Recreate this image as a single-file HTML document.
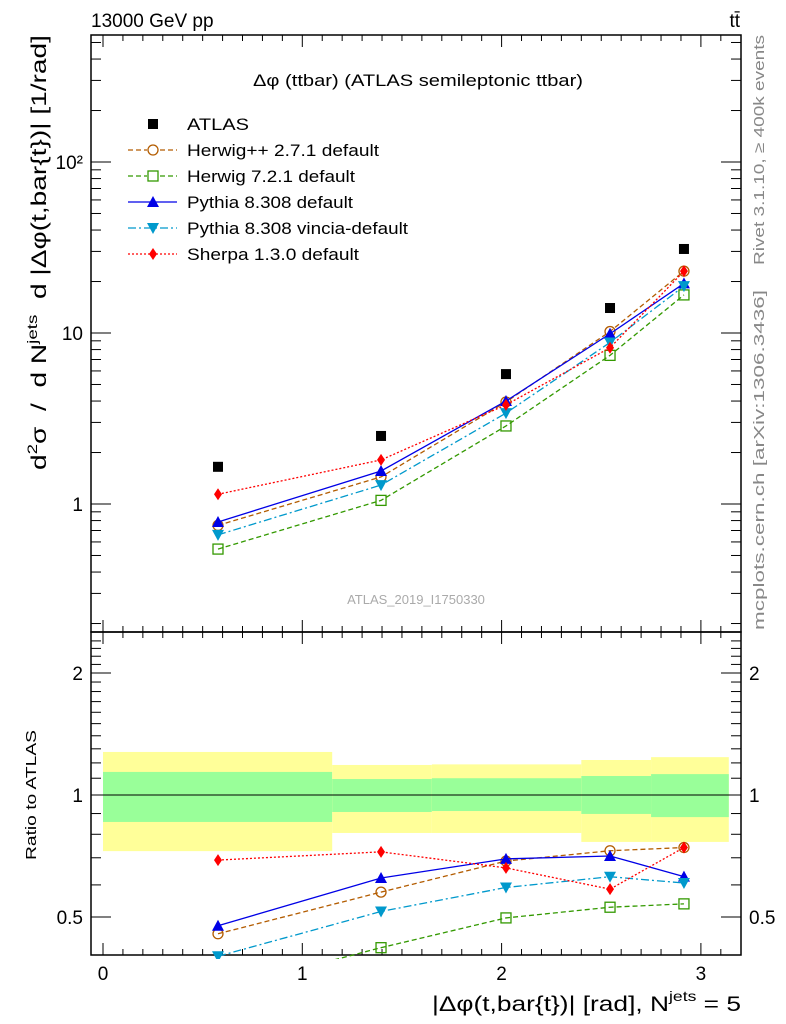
<!DOCTYPE html>
<html><head><meta charset="utf-8"><style>
body{margin:0;background:#fff;}
svg{display:block;font-family:"Liberation Sans",sans-serif;}
</style></head><body>
<svg id="c" width="786" height="1024" viewBox="0 0 786 1024">
<g id="bands"></g>
<g id="axes"></g>
<g id="series"></g>
<g id="texts">
<text x="91" y="27" font-size="19">13000 GeV pp</text>
<text x="740" y="27" font-size="19" text-anchor="end">tt̄</text>
<text x="253" y="86" font-size="17" textLength="330" lengthAdjust="spacingAndGlyphs">Δφ (ttbar) (ATLAS semileptonic ttbar)</text>
<text x="416" y="604" font-size="13" fill="#aaa" text-anchor="middle">ATLAS_2019_I1750330</text>
<text transform="translate(764,265) rotate(-90)" font-size="15" fill="#888" textLength="230" lengthAdjust="spacingAndGlyphs">Rivet 3.1.10, ≥ 400k events</text>
<text transform="translate(764,630) rotate(-90)" font-size="15" fill="#888" textLength="340" lengthAdjust="spacingAndGlyphs">mcplots.cern.ch [arXiv:1306.3436]</text>
<text transform="translate(46,470) rotate(-90)" font-size="21" textLength="435" lengthAdjust="spacingAndGlyphs">d<tspan font-size="14" dy="-9">2</tspan><tspan dy="9" xml:space="preserve">σ  /  d N</tspan><tspan font-size="14" dy="-9">jets</tspan><tspan dy="9" xml:space="preserve">  d |Δφ(t,bar{t})| [1/rad]</tspan></text>
<text transform="translate(36,860) rotate(-90)" font-size="15" textLength="130" lengthAdjust="spacingAndGlyphs">Ratio to ATLAS</text>
<text x="432" y="1011" font-size="21" textLength="309" lengthAdjust="spacingAndGlyphs">|Δφ(t,bar{t})| [rad], N<tspan font-size="14" dy="-10">jets</tspan><tspan dy="10"> = 5</tspan></text>
</g>
<g id="legend"></g>
</svg>
<script>
const xs=[0.577,1.395,2.022,2.544,2.915];
const atlas=[1.65,2.5,5.75,14.0,31];
const herwigpp=[0.75,1.44,3.95,10.2,23];
const herwig7=[0.545,1.05,2.86,7.4,16.7];
const pythia=[0.785,1.56,4.0,9.9,19.5];
const vincia=[0.66,1.29,3.4,8.8,18.8];
const sherpa=[1.14,1.81,3.8,8.2,23];
const binEdges=[0,1.15,1.65,2.4,2.75,3.14];
const yelHi=[1.277,1.186,1.19,1.22,1.24];
const yelLo=[0.727,0.806,0.806,0.766,0.766];
const grnHi=[1.14,1.095,1.1,1.114,1.126];
const grnLo=[0.858,0.908,0.913,0.898,0.882];
const xTicks=[0,1,2,3];
const yTicks=[1,10,100];
const yTickLabels=["1","10","10²"];
const rTicks=[0.5,1,2];

const NS="http://www.w3.org/2000/svg";
const L=91,R=741,T=35,M=632,B=955;
const X=v=>103+v*199.3;
const Y=v=>504-171*Math.log10(v);
const RY=v=>795-122*Math.log2(v);
function mk(tag,attrs,parent){const e=document.createElementNS(NS,tag);for(const k in attrs)e.setAttribute(k,attrs[k]);document.getElementById(parent).appendChild(e);return e;}

for(let i=0;i<5;i++){
 const a=X(binEdges[i]),b=X(binEdges[i+1]);
 let e=mk('rect',{x:a,y:RY(yelHi[i]),width:b-a,height:RY(yelLo[i])-RY(yelHi[i]),fill:'#ffff99'},'bands');
 
 
 e=mk('rect',{x:a,y:RY(grnHi[i]),width:b-a,height:RY(grnLo[i])-RY(grnHi[i]),fill:'#99ff99'},'bands');
 
 
}
let ln=mk('line',{x1:L,x2:R,y1:RY(1),y2:RY(1),stroke:'#000','stroke-width':1},'bands');



let f=mk('rect',{x:L,y:T,width:R-L,height:M-T,fill:'none',stroke:'#000','stroke-width':1.5},'axes');


f=mk('rect',{x:L,y:M,width:R-L,height:B-M,fill:'none',stroke:'#000','stroke-width':1.5},'axes');


function tick(x1,y1,x2,y2){mk('line',{x1,y1,x2,y2,stroke:'#000','stroke-width':1},'axes');}
for(let v=0;v<=3.15;v+=0.1){
 const x=X(v);const maj=Math.abs(v-Math.round(v))<1e-6;const s=maj?12:6;
 if(x<L||x>R)continue;
 tick(x,T,x,T+s);tick(x,M,x,M-s);tick(x,M,x,M+s);tick(x,B,x,B-s);
}
xTicks.forEach(v=>{const t=mk('text',{x:X(v),y:980,'font-size':19,'text-anchor':'middle'},'axes');t.textContent=v;
 
 });
for(let d=-1;d<=2;d++){for(let m=1;m<10;m++){const v=m*Math.pow(10,d);const y=Y(v);if(y<T||y>M)continue;const s=m==1?20:10;tick(L,y,L+s,y);tick(R,y,R-s,y);}}
yTicks.forEach((v,i)=>{const t=mk('text',{x:L-8,y:Y(v)+7,'font-size':19,'text-anchor':'end'},'axes');t.textContent=yTickLabels[i];
 
 });
for(let v=0.4;v<=2.5;v+=0.1){const y=RY(v);if(y<M||y>B)continue;const maj=[0.5,1,2].some(q=>Math.abs(q-v)<1e-6);const s=maj?20:10;tick(L,y,L+s,y);tick(R,y,R-s,y);}
rTicks.forEach(v=>{let t=mk('text',{x:L-8,y:RY(v)+7,'font-size':19,'text-anchor':'end'},'axes');t.textContent=v;
 
 
 t=mk('text',{x:R+8,y:RY(v)+7,'font-size':19},'axes');t.textContent=v;
 
 });

function marker(type,x,y,color,parent){
 let e;
 if(type=='sq')e=mk('rect',{x:x-5,y:y-5,width:10,height:10,fill:'#000'},parent);
 else if(type=='circ')e=mk('circle',{cx:x,cy:y,r:5,fill:'none',stroke:color,'stroke-width':1.3},parent);
 else if(type=='osq')e=mk('rect',{x:x-5,y:y-5,width:10,height:10,fill:'none',stroke:color,'stroke-width':1.3},parent);
 else if(type=='tri')e=mk('polygon',{points:`${x},${y-6} ${x-6},${y+5} ${x+6},${y+5}`,fill:color},parent);
 else if(type=='itri')e=mk('polygon',{points:`${x},${y+6} ${x-6},${y-5} ${x+6},${y-5}`,fill:color},parent);
 else e=mk('polygon',{points:`${x},${y-6} ${x-4},${y} ${x},${y+6} ${x+4},${y}`,fill:color},parent);
 return e;
}
const series=[
 {name:'herwigpp',vals:herwigpp,color:'#b35c00',dash:'5,3',mk:'circ',label:'Herwig++ 2.7.1 default'},
 {name:'herwig7',vals:herwig7,color:'#339900',dash:'5,3',mk:'osq',label:'Herwig 7.2.1 default'},
 {name:'pythia',vals:pythia,color:'#0000e6',dash:'',mk:'tri',label:'Pythia 8.308 default'},
 {name:'vincia',vals:vincia,color:'#0099cc',dash:'8,3,2,3',mk:'itri',label:'Pythia 8.308 vincia-default'},
 {name:'sherpa',vals:sherpa,color:'#ff0000',dash:'2,2',mk:'dia',label:'Sherpa 1.3.0 default'}
];
const cm=mk('clipPath',{id:'cm'},'series');const cmr=document.createElementNS(NS,'rect');
cmr.setAttribute('x',L);cmr.setAttribute('y',T);cmr.setAttribute('width',R-L);cmr.setAttribute('height',M-T);cm.appendChild(cmr);
const cr=mk('clipPath',{id:'cr'},'series');const crr=document.createElementNS(NS,'rect');
crr.setAttribute('x',L);crr.setAttribute('y',M);crr.setAttribute('width',R-L);crr.setAttribute('height',B-M+4);cr.appendChild(crr);
series.forEach(s=>{
 const g=mk('g',{'clip-path':'url(#cm)'},'series');
 
 
 const p=mk('polyline',{points:xs.map((x,i)=>X(x)+','+Y(s.vals[i])).join(' '),fill:'none',stroke:s.color,'stroke-width':1.3,'stroke-dasharray':s.dash},'series');
 g.appendChild(p);
 xs.forEach((x,i)=>{const m=marker(s.mk,X(x),Y(s.vals[i]),s.color,'series');g.appendChild(m);
  
  });
 const g2=mk('g',{'clip-path':'url(#cr)'},'series');
 
 
 const rp=mk('polyline',{points:xs.map((x,i)=>X(x)+','+RY(s.vals[i]/atlas[i])).join(' '),fill:'none',stroke:s.color,'stroke-width':1.3,'stroke-dasharray':s.dash},'series');
 g2.appendChild(rp);
 xs.forEach((x,i)=>{const m=marker(s.mk,X(x),RY(s.vals[i]/atlas[i]),s.color,'series');g2.appendChild(m);
  
  });
});
xs.forEach((x,i)=>{const m=marker('sq',X(x),Y(atlas[i]),'#000','series');
 
 });

const lrows=[124,150,176,202,228,254];
const lwidths=[62,192,168,166,221,172];
let e=marker('sq',153,lrows[0],'#000','legend');


let t=mk('text',{x:187,y:lrows[0]+6,'font-size':17,textLength:lwidths[0],lengthAdjust:'spacingAndGlyphs'},'legend');t.textContent='ATLAS';


series.forEach((s,i)=>{const y=lrows[i+1];
 const l=mk('line',{x1:128,x2:177,y1:y,y2:y,stroke:s.color,'stroke-width':1.3,'stroke-dasharray':s.dash},'legend');
 
 
 if(s.mk=='circ'||s.mk=='osq')mk('rect',{x:147,y:y-6,width:12,height:12,fill:'#fff'},'legend');
 const m=marker(s.mk,153,y,s.color,'legend');
 
 
 const tx=mk('text',{x:187,y:y+6,'font-size':17,textLength:lwidths[i+1],lengthAdjust:'spacingAndGlyphs'},'legend');tx.textContent=s.label;
 
 
});
</script>
</body></html>
